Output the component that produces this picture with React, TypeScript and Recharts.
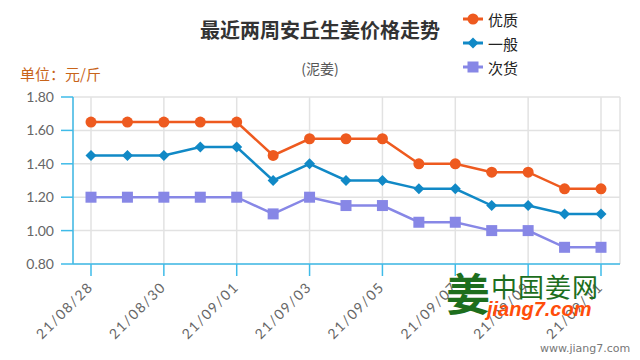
import React from 'react';
import { LineChart, Line, XAxis, YAxis, CartesianGrid } from 'recharts';

const dates = ['21/08/28','21/08/29','21/08/30','21/08/31','21/09/01','21/09/02','21/09/03','21/09/04','21/09/05','21/09/06','21/09/07','21/09/08','21/09/09','21/09/10','21/09/11'];
const youzhi = [1.65,1.65,1.65,1.65,1.65,1.45,1.55,1.55,1.55,1.40,1.40,1.35,1.35,1.25,1.25];
const yiban = [1.45,1.45,1.45,1.50,1.50,1.30,1.40,1.30,1.30,1.25,1.25,1.15,1.15,1.10,1.10];
const cihuo = [1.20,1.20,1.20,1.20,1.20,1.10,1.20,1.15,1.15,1.05,1.05,1.00,1.00,0.90,0.90];
const xTicks = [0,2,4,6,8,10,12,14];
const yTicks = [0.8,1.0,1.2,1.4,1.6,1.8];

const data = dates.map((d, i) => ({ i, date: d, youzhi: youzhi[i], yiban: yiban[i], cihuo: cihuo[i] }));

const C1 = '#ee5a1f';
const C2 = '#1189c6';
const C3 = '#8787e6';
const AXIS = '#3fbbe8';
const FONT = 'Lato, "Noto Sans CJK SC", sans-serif';
const CJK = '"Noto Sans CJK SC", sans-serif';

const CircleDot = (p: any) => <circle key={p.index} cx={p.cx} cy={p.cy} r={5.5} fill={C1} />;
const DiamondDot = (p: any) => (
  <path key={p.index} d={`M${p.cx},${p.cy - 5.5}L${p.cx + 5.5},${p.cy}L${p.cx},${p.cy + 5.5}L${p.cx - 5.5},${p.cy}Z`} fill={C2} />
);
const SquareDot = (p: any) => <rect key={p.index} x={p.cx - 5.5} y={p.cy - 5.5} width={11} height={11} fill={C3} />;

const XTick = (p: any) => (
  <text x={p.x + 3} y={p.y + 12} transform={`rotate(-45 ${p.x + 3} ${p.y + 12})`} textAnchor="end" fill="#666" fontSize={14} letterSpacing={1.5} fontFamily={FONT}>
    {dates[p.payload.value]}
  </text>
);

const legendItems = [
  { name: '优质', color: C1, kind: 'circle' },
  { name: '一般', color: C2, kind: 'diamond' },
  { name: '次货', color: C3, kind: 'square' },
];

export default function App() {
  return (
    <div style={{ position: 'absolute', left: 0, top: 0, width: 640, height: 360, background: '#fff', overflow: 'hidden' }}>
      <div style={{ position: 'absolute', left: 0, width: 640, top: 15, textAlign: 'center', fontFamily: CJK, fontWeight: 'bold', fontSize: 20, color: '#333', lineHeight: '30px' }}>
        最近两周安丘生姜价格走势
      </div>
      <div style={{ position: 'absolute', left: 0, width: 640, top: 58, textAlign: 'center', fontFamily: CJK, fontSize: 14, color: '#555', lineHeight: '20px' }}>
        (泥姜)
      </div>
      <div style={{ position: 'absolute', left: 20, top: 63, fontFamily: CJK, fontSize: 15, color: '#c8641a', lineHeight: '22px' }}>
        单位：元/斤
      </div>
      {legendItems.map((it, k) => (
        <div key={it.name} style={{ position: 'absolute', left: 462, top: 8 + k * 24, height: 22, display: 'flex', alignItems: 'center' }}>
          <svg width={22} height={22}>
            <line x1={1} y1={11} x2={21} y2={11} stroke={it.color} strokeWidth={3} />
            {it.kind === 'circle' && <circle cx={11} cy={11} r={5.5} fill={it.color} />}
            {it.kind === 'diamond' && <path d="M11,5.5L16.5,11L11,16.5L5.5,11Z" fill={it.color} />}
            {it.kind === 'square' && <rect x={5.5} y={5.5} width={11} height={11} fill={it.color} />}
          </svg>
          <span style={{ marginLeft: 4, fontFamily: CJK, fontSize: 15, color: '#222' }}>{it.name}</span>
        </div>
      ))}
      <div style={{ position: 'absolute', left: 0, top: 0 }}>
        <LineChart width={640} height={360} data={data} margin={{ top: 97, right: 20, bottom: 0, left: 0 }}>
          <CartesianGrid stroke="#e2e2e2" strokeWidth={1.5} />
          <XAxis
            type="number"
            dataKey="i"
            domain={[0, 14]}
            ticks={xTicks}
            padding={{ left: 18, right: 19 }}
            height={96}
            axisLine={{ stroke: AXIS, strokeWidth: 1.5 }}
            tickLine={{ stroke: AXIS, strokeWidth: 1.5 }}
            tickSize={12}
            tickMargin={0}
            tick={<XTick />}
            interval={0}
          />
          <YAxis
            type="number"
            domain={[0.8, 1.8]}
            ticks={yTicks}
            width={73}
            axisLine={{ stroke: AXIS, strokeWidth: 1.5 }}
            tickLine={{ stroke: AXIS, strokeWidth: 1.5 }}
            tickSize={12}
            tickMargin={7}
            tickFormatter={(v: number) => v.toFixed(2)}
            tick={{ fill: '#666', fontSize: 14, fontFamily: FONT }}
            interval={0}
          />
          <Line dataKey="youzhi" stroke={C1} strokeWidth={2.5} dot={CircleDot} activeDot={false} isAnimationActive={false} />
          <Line dataKey="yiban" stroke={C2} strokeWidth={2.5} dot={DiamondDot} activeDot={false} isAnimationActive={false} />
          <Line dataKey="cihuo" stroke={C3} strokeWidth={2.5} dot={SquareDot} activeDot={false} isAnimationActive={false} />
        </LineChart>
      </div>
      <div style={{ position: 'absolute', left: 446, top: 262, fontFamily: CJK, fontWeight: 'bold', fontSize: 44, color: '#1d6e1d', lineHeight: '60px' }}>姜</div>
      <div style={{ position: 'absolute', left: 491, top: 269, fontFamily: CJK, fontSize: 26, color: '#1d6e1d', lineHeight: '34px', letterSpacing: 1 }}>中国姜网</div>
      <div style={{ position: 'absolute', left: 487, top: 297, fontFamily: '"Liberation Sans", sans-serif', fontWeight: 'bold', fontStyle: 'italic', fontSize: 20, color: '#ff4d0a', lineHeight: '24px' }}>jiang7.com</div>
      <div style={{ position: 'absolute', left: 540, top: 342, fontFamily: '"DejaVu Sans", sans-serif', fontSize: 11, color: '#777', lineHeight: '14px' }}>www.jiang7.com</div>
    </div>
  );
}
